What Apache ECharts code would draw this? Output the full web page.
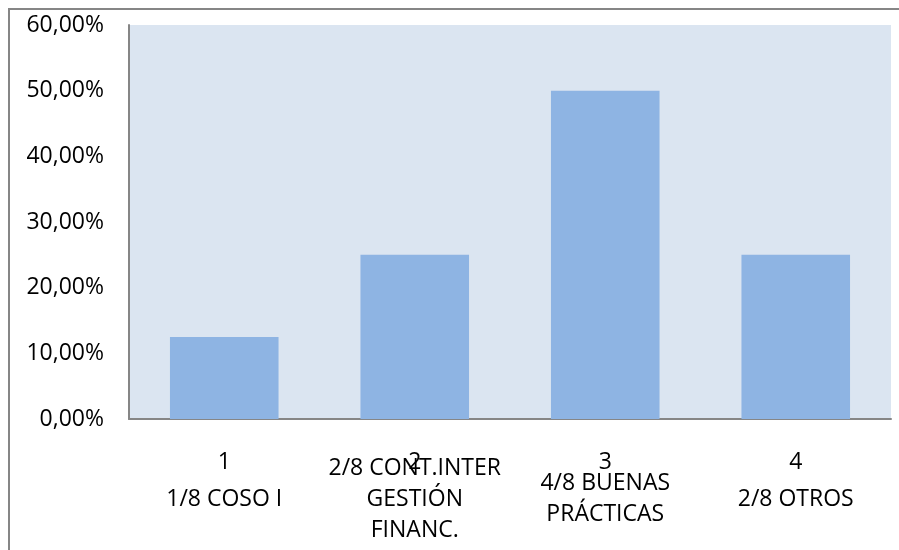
<!DOCTYPE html>
<html>
<head>
<meta charset="utf-8">
<script src="https://cdn.jsdelivr.net/npm/echarts@6/dist/echarts.min.js"></script>
<style>
  html, body { margin: 0; padding: 0; background: #ffffff; }
  #chart { width: 899px; height: 550px; }
</style>
</head>
<body>
<div id="chart"></div>
<script>
// Category numbers and their descriptive labels
const categories = ['1', '2', '3', '4'];
const groupLabels = ['1/8 COSO I', '2/8 CONT.INTER\nGESTIÓN\nFINANC.', '4/8 BUENAS\nPRÁCTICAS', '2/8 OTROS'];
// Share of each group, in percent
const shares = [12.5, 25, 50, 25];
// Y-axis range
const yMin = 0, yMax = 60, yStep = 10;

const FONT = '"Open Sans", "Liberation Sans", sans-serif';
const GRAY = '#868686';

const chart = echarts.init(document.getElementById('chart'), null, { renderer: 'canvas' });

chart.setOption({
  backgroundColor: '#ffffff',
  animation: false,
  // chart-area frame: top and left edges
  graphic: {
    elements: [{
      type: 'rect',
      left: 8, top: 8,
      shape: { width: 891, height: 2 },
      style: { fill: GRAY },
      silent: true, z: 100
    }, {
      type: 'rect',
      left: 8, top: 8,
      shape: { width: 2, height: 542 },
      style: { fill: GRAY },
      silent: true, z: 100
    }]
  },
  grid: {
    left: 129, right: 8, top: 25, bottom: 131,
    containLabel: false, outerBoundsMode: 'none',
    show: true, backgroundColor: '#dbe5f1', borderWidth: 0
  },
  xAxis: [{
    type: 'category',
    data: categories,
    position: 'bottom',
    axisLine: { show: true, lineStyle: { color: GRAY, width: 2 } },
    axisTick: { show: false },
    axisLabel: {
      interval: 0, margin: 43, verticalAlign: 'middle',
      color: '#000', fontFamily: FONT, fontSize: 23
    }
  }, {
    type: 'category',
    data: groupLabels,
    position: 'bottom',
    axisLine: { show: false },
    axisTick: { show: false },
    axisLabel: {
      interval: 0, margin: 80, verticalAlign: 'middle', lineHeight: 31,
      color: '#000', fontFamily: FONT, fontSize: 23
    }
  }],
  yAxis: {
    type: 'value',
    min: yMin, max: yMax, interval: yStep,
    axisLine: { show: true, lineStyle: { color: GRAY, width: 2 } },
    axisTick: { show: false },
    splitLine: { show: false },
    axisLabel: {
      margin: 25, color: '#000', fontFamily: FONT, fontSize: 23,
      formatter: v => v.toFixed(2).replace('.', ',') + '%'
    }
  },
  series: [{
    type: 'bar',
    data: shares,
    barWidth: '57%',
    itemStyle: { color: '#8eb4e3' }
  }]
});
</script>
</body>
</html>
